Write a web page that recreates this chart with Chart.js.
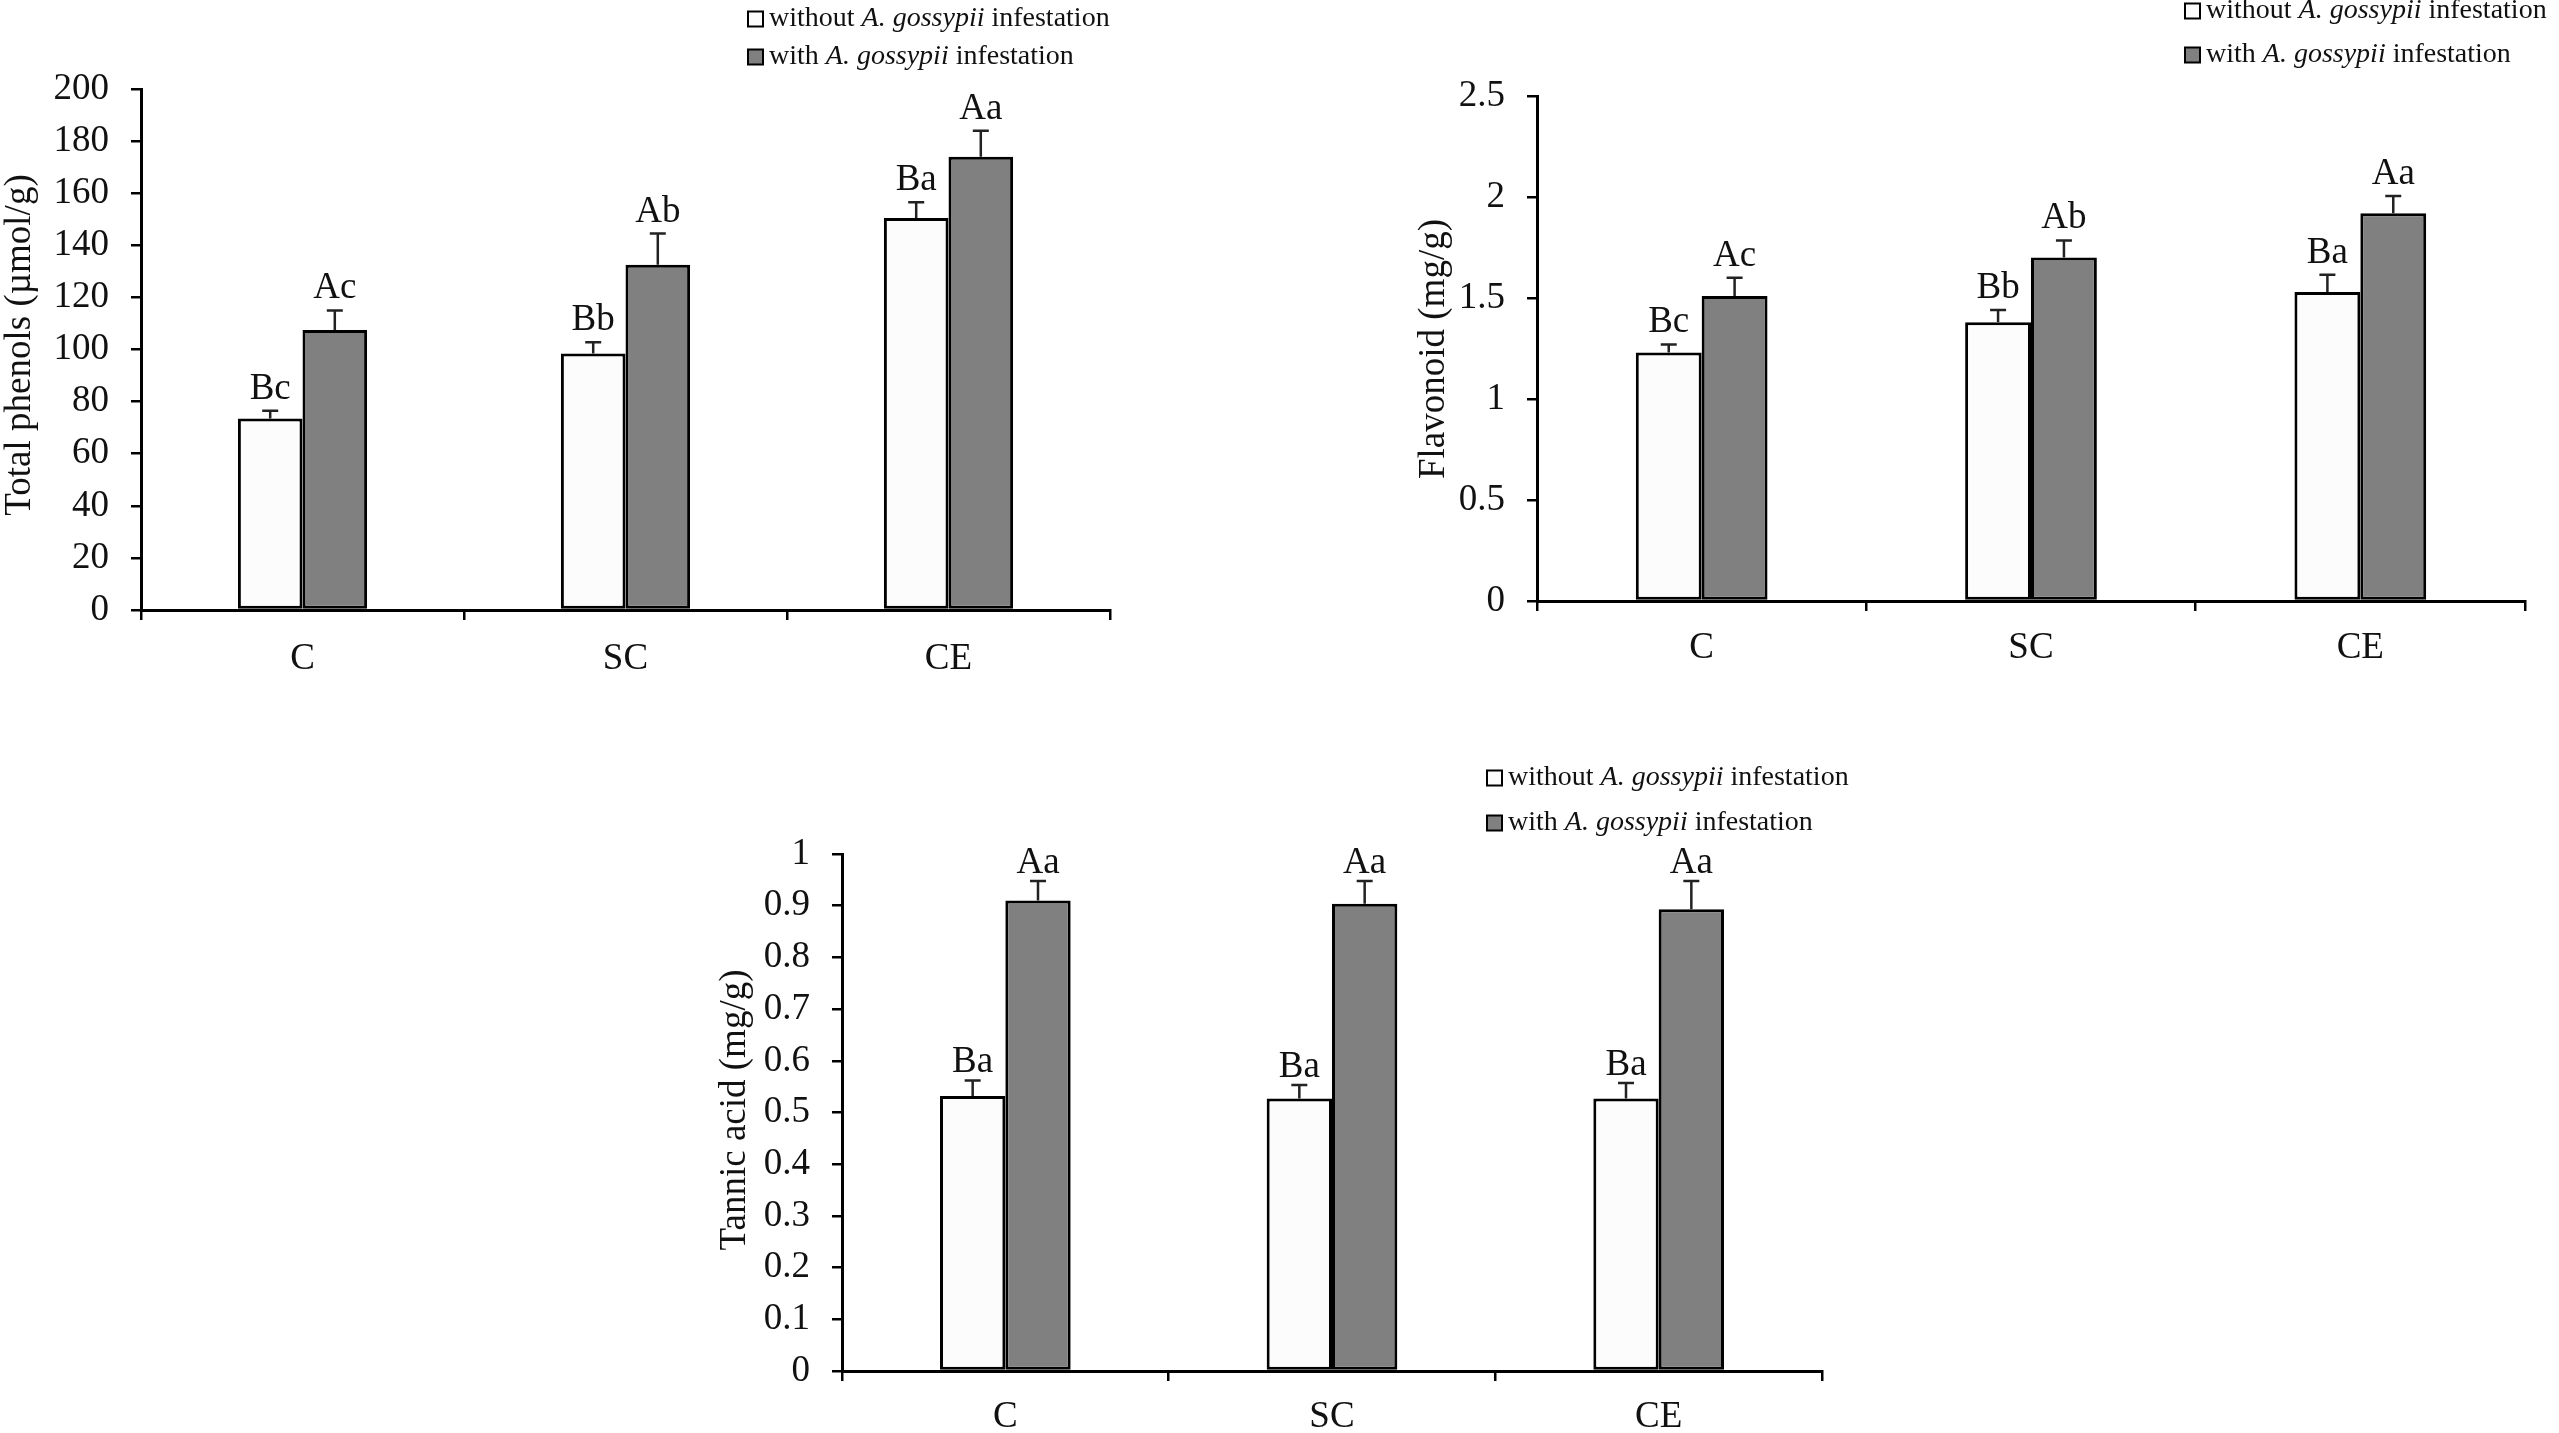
<!DOCTYPE html>
<html>
<head>
<meta charset="utf-8">
<script src="https://cdn.jsdelivr.net/npm/chart.js@4.4.1/dist/chart.umd.min.js"></script>
<style>
  html, body { margin: 0; padding: 0; background: #fff; }
  body { width: 2559px; height: 1433px; position: relative; overflow: hidden; }
  canvas { position: absolute; }
</style>
</head>
<body>
<canvas id="phenols" width="1150" height="700" style="left:0px;top:0px"></canvas>
<canvas id="flavonoid" width="1169" height="700" style="left:1390px;top:0px"></canvas>
<canvas id="tannic" width="1180" height="693" style="left:690px;top:740px"></canvas>
<script>
// shared
const categories = ["C", "SC", "CE"];
const legendParts = [
  [["without ", false], ["A. gossypii", true], [" infestation", false]],
  [["with ", false], ["A. gossypii", true], [" infestation", false]]
];

// total phenols
const phenolsWithout = [73.5, 98.5, 150.5];
const phenolsWith = [107.5, 132.5, 174];
const phenolsErrWithout = [3, 4.3, 6];
const phenolsErrWith = [7.5, 12, 10];
const phenolsLetWithout = ["Bc", "Bb", "Ba"];
const phenolsLetWith = ["Ac", "Ab", "Aa"];
const phenolsTicks = [0, 20, 40, 60, 80, 100, 120, 140, 160, 180, 200];

// flavonoid
const flavWithout = [1.23, 1.38, 1.53];
const flavWith = [1.51, 1.70, 1.92];
const flavErrWithout = [0.04, 0.06, 0.085];
const flavErrWith = [0.09, 0.085, 0.085];
const flavLetWithout = ["Bc", "Bb", "Ba"];
const flavLetWith = ["Ac", "Ab", "Aa"];
const flavTicks = [0, 0.5, 1, 1.5, 2, 2.5];

// tannic acid
const tanWithout = [0.532, 0.527, 0.527];
const tanWith = [0.910, 0.904, 0.893];
const tanErrWithout = [0.03, 0.026, 0.03];
const tanErrWith = [0.038, 0.044, 0.055];
const tanLetWithout = ["Ba", "Ba", "Ba"];
const tanLetWith = ["Aa", "Aa", "Aa"];
const tanTicks = [0, 0.1, 0.2, 0.3, 0.4, 0.5, 0.6, 0.7, 0.8, 0.9, 1];

const serif = '"Liberation Serif", "Times New Roman", serif';
const ink = "#111";
const fills = ["#fcfcfc", "#808080"];

// error bars, letters, y title and legend
const extras = {
  id: "extras",
  afterDatasetsDraw(chart, args, o) {
    const ctx = chart.ctx, y = chart.scales.y;
    ctx.save();
    chart.data.datasets.forEach((ds, di) => {
      chart.getDatasetMeta(di).data.forEach((bar, i) => {
        const top = y.getPixelForValue(ds.data[i] + ds.errors[i]);
        ctx.strokeStyle = "#222";
        ctx.lineWidth = 2.5;
        ctx.beginPath();
        ctx.moveTo(bar.x, bar.y);
        ctx.lineTo(bar.x, top);
        ctx.moveTo(bar.x - 8, top);
        ctx.lineTo(bar.x + 8, top);
        ctx.stroke();
        ctx.fillStyle = ink;
        ctx.font = "37px " + serif;
        ctx.textAlign = "center";
        ctx.textBaseline = "alphabetic";
        ctx.fillText(ds.letters[i], bar.x, top - o.gap);
      });
    });
    ctx.restore();
  },
  afterDraw(chart, args, o) {
    const ctx = chart.ctx;
    ctx.save();
    // y title
    ctx.translate(o.titleX, o.titleY);
    ctx.rotate(-Math.PI / 2);
    ctx.fillStyle = ink;
    ctx.font = "37px " + serif;
    ctx.textAlign = "center";
    ctx.textBaseline = "middle";
    ctx.fillText(o.title, 0, 0);
    ctx.restore();
    // legend
    ctx.save();
    legendParts.forEach((parts, k) => {
      const cy = o.legY + k * o.legStep;
      ctx.fillStyle = fills[k];
      ctx.fillRect(o.legX, cy - 7.5, 15, 15);
      ctx.strokeStyle = "#000";
      ctx.lineWidth = 2;
      ctx.strokeRect(o.legX, cy - 7.5, 15, 15);
      let x = o.legX + 21;
      ctx.fillStyle = ink;
      ctx.textBaseline = "middle";
      ctx.textAlign = "left";
      parts.forEach(([t, it]) => {
        ctx.font = (it ? "italic " : "") + "28px " + serif;
        ctx.fillText(t, x, cy);
        x += ctx.measureText(t).width;
      });
    });
    ctx.restore();
  }
};

function makeChart(id, cfg) {
  const dataset = (vals, errs, lets, k) => ({
    data: vals,
    errors: errs,
    letters: lets,
    backgroundColor: fills[k],
    borderColor: "#000",
    borderWidth: 3,
    borderSkipped: false,
    categoryPercentage: 0.4,
    barPercentage: 1
  });
  return new Chart(document.getElementById(id), {
    type: "bar",
    data: {
      labels: categories,
      datasets: [
        dataset(cfg.without, cfg.errWithout, cfg.letWithout, 0),
        dataset(cfg.with, cfg.errWith, cfg.letWith, 1)
      ]
    },
    options: {
      responsive: false,
      animation: false,
      devicePixelRatio: 1,
      layout: { padding: { top: cfg.padTop, right: cfg.padRight, left: 0, bottom: 0 } },
      plugins: {
        legend: { display: false },
        tooltip: { enabled: false },
        extras: cfg.extras
      },
      scales: {
        x: {
          grid: { drawOnChartArea: false, tickLength: 10, color: "#000", lineWidth: 2.5, offset: true },
          border: { color: "#000", width: 3 },
          ticks: { color: ink, font: { family: serif, size: 37 }, padding: cfg.xPad },
          afterFit: s => { s.height = cfg.xH; }
        },
        y: {
          min: 0,
          max: cfg.ticks[cfg.ticks.length - 1],
          grid: { drawOnChartArea: false, tickLength: 10, color: "#000", lineWidth: 2.5 },
          border: { color: "#000", width: 3 },
          ticks: { color: ink, font: { family: serif, size: 37 }, padding: 22, callback: v => String(v) },
          afterBuildTicks: s => { s.ticks = cfg.ticks.map(v => ({ value: v })); },
          afterFit: s => { s.width = cfg.yW; }
        }
      }
    },
    plugins: [extras]
  });
}

makeChart("phenols", {
  without: phenolsWithout, with: phenolsWith,
  errWithout: phenolsErrWithout, errWith: phenolsErrWith,
  letWithout: phenolsLetWithout, letWith: phenolsLetWith,
  ticks: phenolsTicks,
  padTop: 89, padRight: 40, xH: 90, yW: 141, xPad: 17,
  extras: { gap: 12, title: "Total phenols (\u00b5mol/g)", titleX: 20, titleY: 345, legX: 748, legY: 19, legStep: 38 }
});

makeChart("flavonoid", {
  without: flavWithout, with: flavWith,
  errWithout: flavErrWithout, errWith: flavErrWith,
  letWithout: flavLetWithout, letWith: flavLetWith,
  ticks: flavTicks,
  padTop: 96, padRight: 34, xH: 99, yW: 147, xPad: 15,
  extras: { gap: 12, title: "Flavonoid (mg/g)", titleX: 44, titleY: 349, legX: 795, legY: 11, legStep: 44 }
});

makeChart("tannic", {
  without: tanWithout, with: tanWith,
  errWithout: tanErrWithout, errWith: tanErrWith,
  letWithout: tanLetWithout, letWith: tanLetWith,
  ticks: tanTicks,
  padTop: 114, padRight: 48, xH: 62, yW: 152, xPad: 14,
  extras: { gap: 8, title: "Tannic acid (mg/g)", titleX: 45, titleY: 370, legX: 797, legY: 38, legStep: 45 }
});
</script>
</body>
</html>
